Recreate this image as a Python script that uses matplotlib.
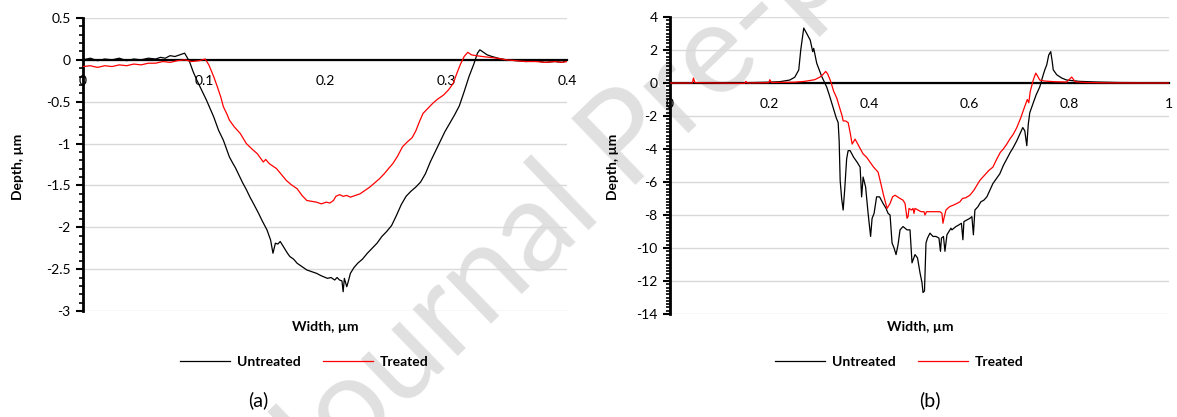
import numpy as np
import matplotlib
matplotlib.use("Agg")
import matplotlib.pyplot as plt
from matplotlib.ticker import MultipleLocator, FuncFormatter

plt.rcParams['font.family'] = ['Lato', 'DejaVu Sans']
plt.rcParams['axes.unicode_minus'] = False

# ---- (a) profile data, width (um) vs depth (um)
xa_untreated = [0.000, 0.006, 0.012, 0.018, 0.024, 0.030, 0.036, 0.042, 0.048, 0.054,
                0.060, 0.064, 0.068, 0.072, 0.076, 0.080, 0.084, 0.088, 0.091, 0.094,
                0.098, 0.102, 0.105, 0.108, 0.112, 0.116, 0.119, 0.121, 0.124, 0.126,
                0.129, 0.132, 0.135, 0.138, 0.141, 0.145, 0.148, 0.152, 0.155, 0.157,
                0.159, 0.161, 0.163, 0.166, 0.169, 0.171, 0.174, 0.177, 0.181, 0.185,
                0.189, 0.193, 0.197, 0.202, 0.205, 0.208, 0.210, 0.212, 0.214, 0.215,
                0.216, 0.218, 0.219, 0.221, 0.224, 0.227, 0.231, 0.235, 0.239, 0.243,
                0.247, 0.251, 0.255, 0.259, 0.263, 0.267, 0.271, 0.275, 0.279, 0.283,
                0.287, 0.291, 0.295, 0.299, 0.303, 0.307, 0.311, 0.315, 0.319, 0.323,
                0.326, 0.328, 0.331, 0.334, 0.338, 0.343, 0.350, 0.358, 0.366, 0.374,
                0.382, 0.390, 0.396, 0.400]
ya_untreated = [0.00, 0.02, -0.01, 0.01, 0.00, 0.02, -0.01, 0.01, 0.00, 0.02,
                0.01, 0.03, 0.02, 0.05, 0.04, 0.06, 0.08, -0.02, -0.14, -0.24,
                -0.36, -0.48, -0.58, -0.68, -0.84, -0.96, -1.08, -1.16, -1.24, -1.29,
                -1.38, -1.47, -1.55, -1.64, -1.72, -1.83, -1.92, -2.03, -2.15, -2.31,
                -2.19, -2.20, -2.17, -2.24, -2.31, -2.35, -2.38, -2.43, -2.47, -2.51,
                -2.53, -2.55, -2.58, -2.61, -2.60, -2.63, -2.60, -2.63, -2.64, -2.77,
                -2.61, -2.71, -2.66, -2.55, -2.48, -2.43, -2.38, -2.31, -2.25, -2.19,
                -2.11, -2.05, -1.98, -1.86, -1.73, -1.63, -1.57, -1.52, -1.46, -1.36,
                -1.22, -1.10, -0.98, -0.86, -0.76, -0.66, -0.55, -0.38, -0.20, -0.05,
                0.08, 0.12, 0.09, 0.06, 0.04, 0.02, 0.00, -0.01, -0.02, -0.01,
                -0.03, -0.02, -0.03, -0.01]

xa_treated = [0.000, 0.006, 0.012, 0.018, 0.024, 0.030, 0.036, 0.042, 0.048, 0.054,
              0.060, 0.066, 0.072, 0.078, 0.084, 0.090, 0.096, 0.101, 0.104, 0.108,
              0.111, 0.114, 0.116, 0.119, 0.121, 0.125, 0.130, 0.135, 0.140, 0.144,
              0.147, 0.149, 0.151, 0.154, 0.157, 0.160, 0.164, 0.168, 0.172, 0.177,
              0.181, 0.185, 0.189, 0.193, 0.197, 0.201, 0.204, 0.207, 0.209, 0.212,
              0.215, 0.218, 0.221, 0.225, 0.229, 0.233, 0.237, 0.241, 0.245, 0.249,
              0.253, 0.256, 0.260, 0.264, 0.268, 0.272, 0.275, 0.278, 0.281, 0.285,
              0.289, 0.293, 0.298, 0.302, 0.306, 0.309, 0.312, 0.315, 0.318, 0.321,
              0.325, 0.330, 0.336, 0.342, 0.350, 0.358, 0.366, 0.374, 0.382, 0.390,
              0.396, 0.400]
ya_treated = [-0.08, -0.07, -0.09, -0.07, -0.08, -0.06, -0.07, -0.05, -0.06, -0.04,
              -0.04, -0.02, -0.03, -0.01, 0.00, -0.02, -0.01, 0.01, -0.06, -0.20,
              -0.32, -0.45, -0.56, -0.65, -0.72, -0.80, -0.88, -1.00, -1.07, -1.12,
              -1.18, -1.22, -1.19, -1.24, -1.27, -1.30, -1.37, -1.44, -1.49, -1.54,
              -1.62, -1.68, -1.69, -1.70, -1.72, -1.70, -1.71, -1.68, -1.63, -1.61,
              -1.63, -1.62, -1.64, -1.62, -1.60, -1.56, -1.52, -1.47, -1.42, -1.36,
              -1.29, -1.24, -1.15, -1.04, -0.98, -0.93, -0.85, -0.74, -0.64, -0.58,
              -0.52, -0.47, -0.42, -0.36, -0.28, -0.16, -0.05, 0.04, 0.09, 0.06,
              0.05, 0.04, 0.03, 0.02, 0.00, -0.01, -0.02, -0.02, -0.03, -0.02,
              -0.03, -0.02]

# ---- (b) profile data
xb_untreated = [0.000, 0.050, 0.100, 0.150, 0.200, 0.220, 0.240, 0.250, 0.258, 0.262,
                0.268, 0.274, 0.281, 0.286, 0.288, 0.294, 0.304, 0.314, 0.320, 0.327,
                0.333, 0.337, 0.339, 0.341, 0.344, 0.347, 0.350, 0.354, 0.357, 0.361,
                0.368, 0.375, 0.381, 0.384, 0.387, 0.392, 0.397, 0.402, 0.405, 0.409,
                0.414, 0.420, 0.427, 0.433, 0.437, 0.441, 0.445, 0.449, 0.453, 0.457,
                0.461, 0.467, 0.475, 0.481, 0.485, 0.491, 0.496, 0.501, 0.505, 0.507,
                0.510, 0.513, 0.516, 0.521, 0.527, 0.533, 0.539, 0.542, 0.544, 0.548,
                0.551, 0.555, 0.561, 0.563, 0.565, 0.573, 0.579, 0.584, 0.587, 0.589,
                0.595, 0.601, 0.605, 0.608, 0.611, 0.617, 0.623, 0.629, 0.635, 0.641,
                0.647, 0.654, 0.661, 0.668, 0.675, 0.682, 0.688, 0.695, 0.701, 0.707,
                0.711, 0.715, 0.718, 0.721, 0.728, 0.734, 0.741, 0.747, 0.751, 0.755,
                0.759, 0.763, 0.766, 0.768, 0.775, 0.785, 0.795, 0.820, 0.855, 0.900,
                0.950, 1.000]
yb_untreated = [0.00, 0.00, 0.01, 0.02, 0.05, 0.08, 0.18, 0.35, 0.79, 2.00,
                3.33, 3.00, 2.60, 1.90, 2.10, 1.20, 0.40, -0.24, -0.80, -1.50,
                -2.10, -2.40, -3.50, -5.90, -7.00, -7.70, -6.50, -4.60, -4.10, -4.10,
                -4.50, -4.80, -5.10, -6.90, -5.70, -6.30, -7.90, -9.30, -8.20, -7.90,
                -6.90, -6.90, -7.30, -7.60, -7.90, -8.00, -9.70, -10.00, -10.40, -9.80,
                -8.90, -8.70, -8.90, -8.90, -10.90, -10.40, -10.60, -11.50, -12.10, -12.70,
                -12.60, -9.70, -9.40, -9.10, -9.30, -9.30, -9.40, -10.20, -9.40, -9.30,
                -10.20, -9.20, -8.90, -8.80, -8.90, -8.70, -8.60, -8.50, -9.50, -8.40,
                -8.30, -8.20, -8.10, -9.20, -7.70, -7.50, -7.20, -7.10, -6.90, -6.50,
                -6.10, -5.80, -5.50, -5.00, -4.60, -4.20, -3.90, -3.50, -3.10, -2.70,
                -2.90, -3.80, -2.50, -1.80, -1.20, -0.70, -0.24, 0.40, 0.79, 1.10,
                1.70, 1.90, 1.30, 0.80, 0.50, 0.30, 0.18, 0.10, 0.06, 0.03,
                0.02, 0.01]

xb_treated = [0.000, 0.020, 0.045, 0.047, 0.050, 0.100, 0.150, 0.152, 0.155, 0.198,
              0.200, 0.203, 0.250, 0.270, 0.290, 0.300, 0.306, 0.312, 0.316, 0.322,
              0.328, 0.334, 0.341, 0.345, 0.347, 0.352, 0.357, 0.361, 0.365, 0.371,
              0.378, 0.387, 0.394, 0.401, 0.408, 0.414, 0.417, 0.421, 0.428, 0.435,
              0.441, 0.446, 0.451, 0.456, 0.461, 0.467, 0.471, 0.475, 0.477, 0.479,
              0.484, 0.487, 0.489, 0.491, 0.497, 0.503, 0.509, 0.511, 0.514, 0.521,
              0.528, 0.535, 0.541, 0.545, 0.547, 0.549, 0.553, 0.560, 0.568, 0.575,
              0.581, 0.586, 0.593, 0.601, 0.609, 0.615, 0.621, 0.630, 0.639, 0.647,
              0.655, 0.662, 0.668, 0.675, 0.681, 0.688, 0.695, 0.703, 0.710, 0.716,
              0.719, 0.722, 0.728, 0.733, 0.737, 0.741, 0.750, 0.770, 0.795, 0.805,
              0.812, 0.830, 0.880, 0.950, 1.000]
yb_treated = [0.00, 0.00, 0.00, 0.30, 0.02, 0.00, -0.02, 0.10, 0.00, 0.02,
              0.20, 0.03, 0.05, 0.10, 0.20, 0.35, 0.50, 0.70, 0.55, 0.10,
              -0.50, -0.90, -1.60, -2.00, -2.30, -2.30, -2.40, -3.00, -3.70, -3.40,
              -3.80, -4.30, -4.50, -4.80, -5.10, -5.30, -5.40, -5.90, -6.80, -7.60,
              -7.30, -6.90, -6.80, -6.90, -7.00, -7.10, -7.30, -8.20, -8.10, -7.60,
              -7.70, -7.60, -7.90, -7.60, -7.70, -7.80, -7.80, -8.00, -7.80, -7.80,
              -7.80, -7.80, -7.80, -7.90, -8.50, -8.20, -7.70, -7.50, -7.40, -7.30,
              -7.20, -7.00, -6.95, -6.80, -6.50, -6.20, -5.90, -5.60, -5.30, -5.10,
              -4.60, -4.20, -4.00, -3.70, -3.40, -3.10, -2.70, -2.10, -1.50, -1.00,
              -1.20, -0.50, 0.18, 0.60, 0.40, 0.18, 0.12, 0.08, 0.06, 0.36,
              0.08, 0.03, 0.01, 0.00, 0.00]

W, H = 1177, 417
fig = plt.figure(figsize=(W / 100, H / 100), dpi=100)

# watermark behind everything
fig.text(640 / W, 1 - 130 / H, 'Journal Pre-proof', fontsize=92, color='#e0e0e0',
         rotation=44, ha='center', va='center', rotation_mode='anchor', zorder=-5)


def style_axes(ax, xmax, xstep, ymin, ymax, ystep, yminor):
    ax.set_facecolor('none')
    ax.set_xlim(0, xmax)
    ax.set_ylim(ymin, ymax)
    ax.xaxis.set_major_locator(MultipleLocator(xstep))
    ax.yaxis.set_major_locator(MultipleLocator(ystep))
    ax.yaxis.set_minor_locator(MultipleLocator(yminor))
    fmt = FuncFormatter(lambda v, p: '%g' % round(v, 3))
    ax.xaxis.set_major_formatter(fmt)
    ax.yaxis.set_major_formatter(fmt)
    for s in ['top', 'right']:
        ax.spines[s].set_visible(False)
    ax.spines['bottom'].set_position(('data', 0))
    ax.spines['bottom'].set_linewidth(1.6)
    ax.spines['bottom'].set_zorder(1.5)
    ax.spines['left'].set_linewidth(2)
    ax.tick_params(axis='x', length=0, pad=11, labelsize=10)
    ax.tick_params(axis='y', which='major', length=5, width=1.5, pad=4, labelsize=10)
    ax.tick_params(axis='y', which='minor', length=3, width=1.2)
    ax.grid(axis='y', which='major', color='#d9d9d9', lw=1)
    ax.set_axisbelow(True)


# ---- panel (a)
ax1 = fig.add_axes([83 / W, 1 - 311 / H, (567 - 83) / W, (311 - 18) / H])
style_axes(ax1, 0.4, 0.1, -3, 0.5, 0.5, 0.1)
ax1.plot(xa_untreated, ya_untreated, color='black', lw=0.9, label='Untreated', zorder=3)
ax1.plot(xa_treated, ya_treated, color='red', lw=0.9, label='Treated', zorder=3)

# ---- panel (b)
ax2 = fig.add_axes([670 / W, 1 - 314 / H, (1169 - 670) / W, (314 - 17) / H])
style_axes(ax2, 1.0, 0.2, -14, 4, 2, 0.2)
ax2.plot(xb_untreated, yb_untreated, color='black', lw=0.9, label='Untreated', zorder=3)
ax2.plot(xb_treated, yb_treated, color='red', lw=0.9, label='Treated', zorder=3)

for ax, cx, ylab_x, tag in [(ax1, 325, 18, '(a)'), (ax2, 920, 613, '(b)')]:
    fig.text(cx / W, 1 - 327 / H, 'Width, µm', ha='center', va='center',
             fontsize=10, fontweight='bold')
    fig.text(ylab_x / W, 1 - 167 / H, 'Depth, µm', ha='center', va='center',
             rotation=90, fontsize=10, fontweight='bold')
    ax.legend(loc='center', bbox_to_anchor=((cx - 21) / W, 1 - 362 / H),
              bbox_transform=fig.transFigure, ncol=2, frameon=False,
              handlelength=3.6, handletextpad=0.5, columnspacing=1.6,
              prop={'weight': 'bold', 'size': 10})
    fig.text((cx - 67) / W if tag == '(a)' else (cx + 10) / W, 1 - 400 / H, tag,
             ha='center', va='center', fontsize=14)

fig.savefig('out.png', dpi=100)
